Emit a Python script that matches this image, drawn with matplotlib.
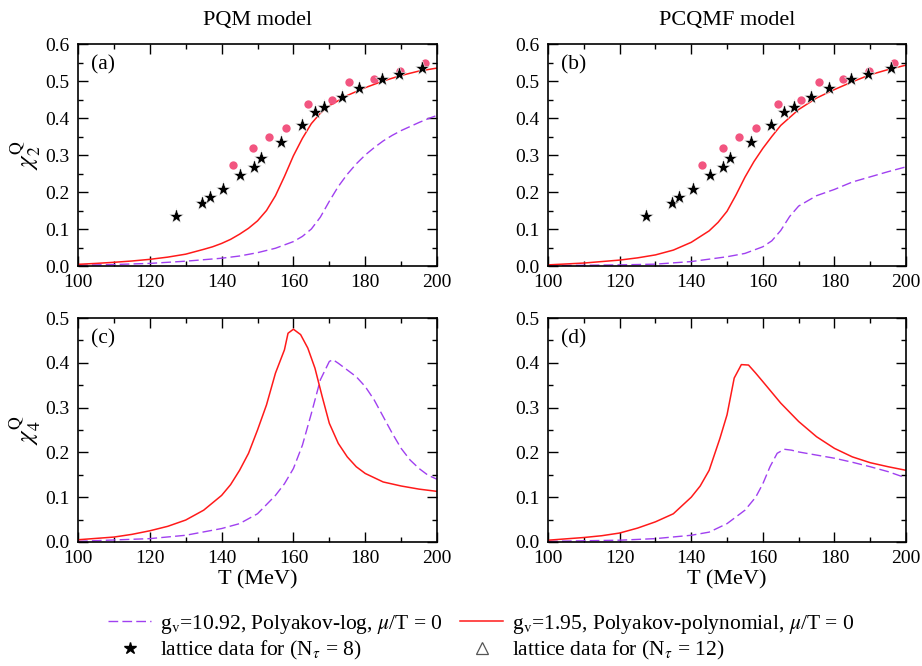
import matplotlib
matplotlib.use('Agg')
import matplotlib.pyplot as plt
from matplotlib.lines import Line2D
from matplotlib.ticker import MultipleLocator, FormatStrFormatter

plt.rcParams['font.family'] = ['Liberation Serif', 'DejaVu Serif']
plt.rcParams['mathtext.fontset'] = 'stix'

# lattice data (same in both chi2 panels)
T_nt8 = [127.4, 134.6, 136.7, 140.5, 145.1, 149.0, 150.9, 156.6, 162.3, 166.0,
         168.6, 173.5, 178.4, 184.7, 189.3, 195.8]
chi2_nt8 = [0.136, 0.169, 0.187, 0.208, 0.246, 0.268, 0.291, 0.336, 0.381, 0.417,
            0.429, 0.456, 0.482, 0.505, 0.519, 0.534]
T_nt12 = [143.1, 148.8, 153.3, 158.0, 164.2, 170.7, 175.6, 182.5, 189.6, 196.7]
chi2_nt12 = [0.274, 0.318, 0.350, 0.373, 0.437, 0.449, 0.496, 0.505, 0.528, 0.550]

# (a) PQM chi2
T_a_red = [100, 105, 110, 115, 120, 125, 130, 135, 137.5, 140, 142.5, 145, 147.5, 150,
           152.5, 155, 157.5, 160, 162.5, 165, 167.5, 170, 175, 180, 185, 190, 195, 200]
chi2_a_red = [0.0045, 0.007, 0.010, 0.0135, 0.018, 0.024, 0.032, 0.045, 0.052, 0.061,
              0.072, 0.086, 0.102, 0.122, 0.150, 0.190, 0.242, 0.298, 0.345, 0.385,
              0.413, 0.433, 0.461, 0.482, 0.500, 0.515, 0.527, 0.535]
T_a_pur = [100, 110, 120, 130, 140, 145, 150, 155, 160, 162.5, 165, 167.5, 170, 172.5,
           175, 177.5, 180, 182.5, 185, 187.5, 190, 195, 198, 200]
chi2_a_pur = [0.002, 0.004, 0.007, 0.013, 0.021, 0.027, 0.036, 0.048, 0.066, 0.080,
              0.100, 0.132, 0.175, 0.215, 0.248, 0.276, 0.300, 0.320, 0.338, 0.353,
              0.366, 0.388, 0.400, 0.407]

# (b) PCQMF chi2
T_b_red = [100, 110, 120, 125, 130, 135, 140, 145, 147.5, 150, 152.5, 155, 157.5, 160,
           162.5, 165, 170, 175, 180, 185, 190, 195, 200]
chi2_b_red = [0.003, 0.008, 0.016, 0.022, 0.030, 0.043, 0.064, 0.095, 0.118, 0.148,
              0.192, 0.240, 0.282, 0.318, 0.350, 0.380, 0.423, 0.454, 0.477, 0.498,
              0.517, 0.531, 0.543]
T_b_pur = [100, 120, 130, 140, 150, 155, 160, 162.5, 165, 167.5, 170, 175, 180, 185,
           190, 195, 200]
chi2_b_pur = [0.001, 0.003, 0.005, 0.012, 0.025, 0.034, 0.052, 0.068, 0.096, 0.134,
              0.162, 0.190, 0.207, 0.227, 0.241, 0.255, 0.268]

# (c) PQM chi4
T_c_red = [100, 110, 115, 120, 125, 130, 135, 140, 142.5, 145, 147.5, 150, 152.5, 155,
           157.5, 158.5, 160, 162, 164, 166, 168, 170, 172.5, 175, 177.5, 180, 185,
           190, 195, 200]
chi4_c_red = [0.005, 0.011, 0.017, 0.025, 0.035, 0.049, 0.071, 0.104, 0.128, 0.160,
              0.198, 0.250, 0.306, 0.377, 0.429, 0.466, 0.475, 0.463, 0.433, 0.388,
              0.325, 0.265, 0.220, 0.190, 0.168, 0.153, 0.134, 0.125, 0.118, 0.113]
T_c_pur = [100, 120, 130, 140, 145, 150, 155, 157.5, 160, 162.5, 165, 167.5, 170, 171,
           172.5, 175, 177.5, 180, 182.5, 185, 187.5, 190, 192.5, 195, 197.5, 200]
chi4_c_pur = [0.0015, 0.0075, 0.015, 0.030, 0.041, 0.063, 0.104, 0.130, 0.164, 0.216,
              0.287, 0.362, 0.403, 0.407, 0.399, 0.384, 0.369, 0.347, 0.317, 0.280,
              0.243, 0.209, 0.183, 0.164, 0.149, 0.140]

# (d) PCQMF chi4
T_d_red = [100, 110, 115, 120, 125, 130, 135, 140, 142.5, 145, 148, 150, 152, 154, 156,
           158, 160, 165, 170, 175, 180, 185, 190, 195, 200]
chi4_d_red = [0.004, 0.010, 0.014, 0.020, 0.031, 0.045, 0.063, 0.100, 0.125, 0.160,
              0.231, 0.284, 0.366, 0.396, 0.395, 0.377, 0.358, 0.310, 0.269, 0.235,
              0.209, 0.190, 0.177, 0.168, 0.160]
T_d_pur = [100, 120, 130, 140, 145, 150, 155, 158, 160, 162, 164, 166, 168, 170, 175,
           180, 185, 190, 195, 200]
chi4_d_pur = [0.0015, 0.004, 0.0075, 0.015, 0.022, 0.041, 0.071, 0.100, 0.130, 0.168,
              0.198, 0.207, 0.205, 0.201, 0.194, 0.187, 0.178, 0.168, 0.157, 0.143]

red = '#ff1a1a'
purple = '#a040f0'
pink = '#f25580'

fig = plt.figure(figsize=(9.22, 6.66), dpi=100)
ax_a = fig.add_axes([0.0846, 0.6006, 0.3894, 0.3333])
ax_b = fig.add_axes([0.5944, 0.6006, 0.3883, 0.3333])
ax_c = fig.add_axes([0.0846, 0.1862, 0.3894, 0.3363])
ax_d = fig.add_axes([0.5944, 0.1862, 0.3883, 0.3363])

panels = [
    (ax_a, T_a_red, chi2_a_red, T_a_pur, chi2_a_pur, '(a)', 0.6),
    (ax_b, T_b_red, chi2_b_red, T_b_pur, chi2_b_pur, '(b)', 0.6),
    (ax_c, T_c_red, chi4_c_red, T_c_pur, chi4_c_pur, '(c)', 0.5),
    (ax_d, T_d_red, chi4_d_red, T_d_pur, chi4_d_pur, '(d)', 0.5),
]

for ax, tr, yr, tp, yp, tag, ymax in panels:
    ax.plot(tp, yp, color=purple, lw=1.0, dashes=(7, 3))
    ax.plot(tr, yr, color=red, lw=1.1)
    ax.set_xlim(100, 200)
    ax.set_ylim(0, ymax)
    ax.xaxis.set_major_locator(MultipleLocator(20))
    ax.xaxis.set_minor_locator(MultipleLocator(10))
    ax.yaxis.set_major_locator(MultipleLocator(0.1))
    ax.yaxis.set_minor_locator(MultipleLocator(0.05))
    ax.yaxis.set_major_formatter(FormatStrFormatter('%.1f'))
    ax.tick_params(which='both', direction='in', top=True, right=True, width=1.0)
    ax.tick_params(which='major', length=7, labelsize=14, pad=6)
    ax.tick_params(which='minor', length=3.5)
    for s in ax.spines.values():
        s.set_linewidth(1.2)
    ax.text(0.035, 0.905, tag, transform=ax.transAxes, fontsize=15.5, va='center')

for ax in (ax_a, ax_b):
    ax.plot(T_nt12, chi2_nt12, 'o', color=pink, ms=6, mec='none')
    ax.plot(T_nt8, chi2_nt8, '*', color='black', ms=11, mec='white', mew=0.4)

ax_a.set_title('PQM model', fontsize=16, pad=14)
ax_b.set_title('PCQMF model', fontsize=16, pad=14)
ax_a.set_ylabel(r'$\chi_2^{\rm Q}$', fontsize=18, labelpad=2)
ax_c.set_ylabel(r'$\chi_4^{\rm Q}$', fontsize=18, labelpad=2)
ax_c.set_xlabel('T (MeV)', fontsize=16, labelpad=2)
ax_d.set_xlabel('T (MeV)', fontsize=16, labelpad=2)

handles = [
    Line2D([], [], color=purple, lw=1.0, dashes=(7, 3)),
    Line2D([], [], ls='none', marker='*', color='black', ms=9),
    Line2D([], [], color=red, lw=1.1),
    Line2D([], [], ls='none', marker='^', mfc='none', mec='#555555', ms=8, mew=0.9),
]
labels = [
    r'g$_{\rm v}$=10.92, Polyakov-log, $\mu$/T = 0',
    r'lattice data for (N$_\tau$ = 8)',
    r'g$_{\rm v}$=1.95, Polyakov-polynomial, $\mu$/T = 0',
    r'lattice data for (N$_\tau$ = 12)',
]
fig.legend(handles, labels, ncol=2, loc='center', bbox_to_anchor=(0.522, 0.043),
           frameon=False, fontsize=15.5, handlelength=2.0, handletextpad=0.4,
           columnspacing=0.8, labelspacing=0.15, borderpad=0)

fig.savefig('out.png', dpi=100)
